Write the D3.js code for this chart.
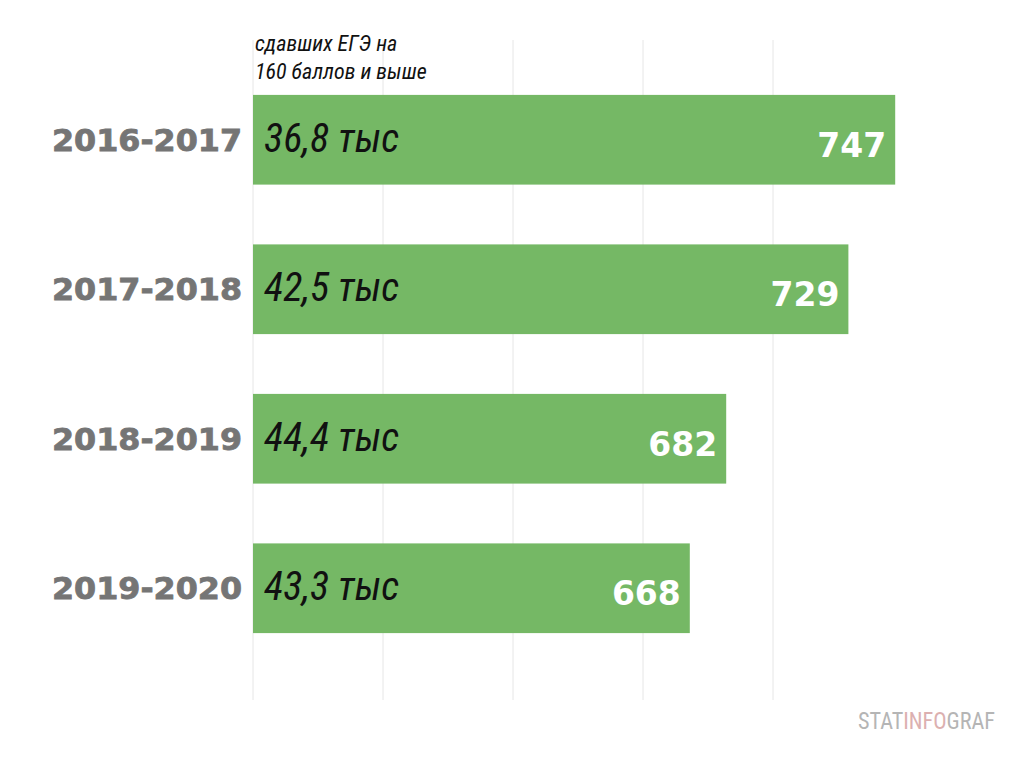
<!DOCTYPE html><html><head><meta charset="utf-8">
<script src="https://cdn.jsdelivr.net/npm/d3@7"></script>
<style>body{margin:0;background:#fff}</style></head><body>
<svg id="c" width="1033" height="765"></svg>
<script>
const categories=["2016-2017","2017-2018","2018-2019","2019-2020"];
const values=[747,729,682,668];
const counts=["36,8 тыс","42,5 тыс","44,4 тыс","43,3 тыс"];
const gridTicks=[500,550,600,650,700];
const svg=d3.select("#c");
const x=d3.scaleLinear().domain([500,750]).range([253,903]);
const y=d3.scaleBand().domain(categories).range([65,663]).paddingInner(0.4).paddingOuter(0.2);
const narrow="'Liberation Sans Narrow','Roboto Condensed',Roboto,sans-serif";
const heavy="'DejaVu Sans',sans-serif";
svg.selectAll(".g").data(gridTicks).enter().append("line").attr("x1",d=>x(d)).attr("x2",d=>x(d)).attr("y1",40).attr("y2",700).attr("stroke","#e6e6e6");
svg.selectAll(".b").data(values).enter().append("rect").attr("x",x(500)).attr("y",(d,i)=>y(categories[i])).attr("width",d=>x(d)-x(500)).attr("height",y.bandwidth()).attr("fill","#75b865");
svg.selectAll(".cl").data(categories).enter().append("text").attr("x",242).attr("y",d=>y(d)+y.bandwidth()/2+11).attr("text-anchor","end").attr("font-family",heavy).attr("font-weight","bold").attr("font-size",30).attr("fill","#757575").attr("stroke","#757575").attr("stroke-width",0.8).attr("textLength",190).attr("lengthAdjust","spacingAndGlyphs").text(d=>d);
svg.selectAll(".ct").data(counts).enter().append("text").attr("x",264).attr("y",(d,i)=>y(categories[i])+y.bandwidth()/2+12).attr("font-family",narrow).attr("font-style","italic").attr("font-size",40).attr("fill","#111").text(d=>d);
svg.selectAll(".v").data(values).enter().append("text").attr("x",d=>x(d)-9).attr("y",(d,i)=>y(categories[i])+y.bandwidth()/2+17).attr("text-anchor","end").attr("font-family",heavy).attr("font-weight","bold").attr("font-size",33).attr("fill","#fff").text(d=>d);
const t=svg.append("text").attr("font-family",narrow).attr("font-style","italic").attr("font-size",22).attr("fill","#111");
t.append("tspan").attr("x",255).attr("y",51).text("сдавших ЕГЭ на");
t.append("tspan").attr("x",255).attr("y",79).text("160 баллов и выше");
const w=svg.append("text").attr("x",995).attr("y",729).attr("text-anchor","end").attr("font-family",narrow).attr("font-size",24).attr("textLength",137).attr("lengthAdjust","spacingAndGlyphs");
w.append("tspan").attr("fill","#b5b5b5").text("STAT");
w.append("tspan").attr("fill","#dcb0b0").text("INFO");
w.append("tspan").attr("fill","#b5b5b5").text("GRAF");
</script></body></html>
